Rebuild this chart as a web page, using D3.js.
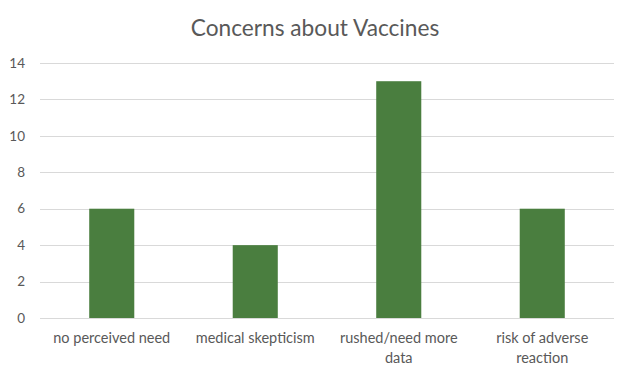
<!DOCTYPE html>
<html><head><meta charset="utf-8">
<script src="https://cdn.jsdelivr.net/npm/d3@7"></script>
<style>body{margin:0;background:#fff}svg{display:block}</style>
</head><body>
<script>
const categories = [["no perceived need"], ["medical skepticism"], ["rushed/need more", "data"], ["risk of adverse", "reaction"]];
const values = [6, 4, 13, 6];
const yTicks = [0, 2, 4, 6, 8, 10, 12, 14];
const title = "Concerns about Vaccines";

const W = 620, H = 369;
const svg = d3.select("body").append("svg").attr("width", W).attr("height", H);
const font = "Lato, 'Open Sans', sans-serif";

const x = d3.scaleBand().domain(d3.range(categories.length)).range([40, 614]).paddingInner(0.686).paddingOuter(0.343);
const y = d3.scaleLinear().domain([0, 14]).range([318, 63]);

svg.append("text").attr("x", 315).attr("y", 36).attr("text-anchor", "middle")
  .attr("font-family", font).attr("font-size", 22.7).attr("fill", "#595959").text(title);

// gridlines
svg.append("g").selectAll("line").data(yTicks).join("line")
  .attr("x1", 40).attr("x2", 614).attr("y1", d => Math.round(y(d)) + 0.5).attr("y2", d => Math.round(y(d)) + 0.5)
  .attr("stroke", "#d9d9d9").attr("stroke-width", 1);

// y labels
svg.append("g").selectAll("text").data(yTicks).join("text")
  .attr("x", 25).attr("y", d => y(d)).attr("dy", "0.35em").attr("text-anchor", "end")
  .attr("font-family", font).attr("font-size", 13.5).attr("fill", "#595959").text(d => d);

// bars
svg.append("g").selectAll("rect").data(values).join("rect")
  .attr("x", (d, i) => x(i)).attr("width", x.bandwidth())
  .attr("y", d => y(d)).attr("height", d => y(0) - y(d))
  .attr("fill", "#4a7e3f");

// category labels
const cl = svg.append("g").selectAll("text").data(categories).join("text")
  .attr("x", (d, i) => x(i) + x.bandwidth() / 2).attr("y", 343).attr("text-anchor", "middle")
  .attr("font-family", font).attr("font-size", 14.5).attr("fill", "#595959");
cl.each(function(d, i) {
  const t = d3.select(this);
  d.forEach((line, j) => t.append("tspan").attr("x", x(i) + x.bandwidth() / 2).attr("dy", j === 0 ? 0 : 20).text(line));
});
</script>
</body></html>
